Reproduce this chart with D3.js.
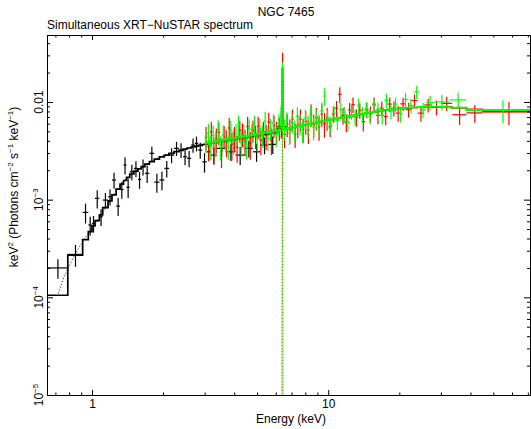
<!DOCTYPE html>
<meta charset="utf-8">
<style>
  body { margin: 0; background: #fff; }
  text { font-family: "Liberation Sans", Arial, sans-serif; fill: #000; }
</style>
<body>
<script src="https://d3js.org/d3.v7.min.js"></script>
<script>

// all fluxes in units of 1e-3 keV^2 (Photons cm^-2 s^-1 keV^-1)
var unit = 1e-3;

// XRT (black): bin edges in keV, data, 1-sigma errors, folded model
var xrtEdges = [0.645, 0.790, 0.913, 0.965, 1.000, 1.030, 1.075, 1.110, 1.170, 1.215, 1.265, 1.315, 1.360, 1.400,
  1.445, 1.505, 1.565, 1.615, 1.675, 1.750, 1.835, 1.930, 2.025, 2.120, 2.225, 2.335, 2.430, 2.525, 2.630, 2.725,
  2.815, 2.930, 3.060, 3.180, 3.380, 3.700, 4.050, 4.430, 4.800, 5.150, 5.600, 6.050, 6.700];
var xrtFlux = [0.200, 0.275, 0.740, 0.550, 0.570, 1.030, 0.668, 0.990, 1.070, 1.590, 0.860, 1.270, 2.260, 1.340,
  1.930, 2.090, 1.610, 2.170, 1.860, 2.980, 1.510, 1.590, 2.090, 2.860, 3.350, 3.220, 2.750, 2.650, 3.620, 3.770,
  3.220, 2.440, 3.090, 2.860, 3.350, 3.090, 2.860, 3.350, 3.090, 3.620, 3.680, 5.600];
var xrtErr = [0.045, 0.070, 0.170, 0.120, 0.110, 0.220, 0.130, 0.180, 0.200, 0.300, 0.180, 0.250, 0.450, 0.300,
  0.350, 0.380, 0.320, 0.400, 0.380, 0.500, 0.330, 0.340, 0.400, 0.500, 0.550, 0.550, 0.500, 0.500, 0.600, 0.650,
  0.600, 0.550, 0.600, 0.550, 0.600, 0.600, 0.600, 0.650, 0.650, 0.700, 0.750, 1.300];
var xrtModel = [0.105, 0.270, 0.390, 0.470, 0.540, 0.610, 0.700, 0.830, 0.970, 1.120, 1.280, 1.440, 1.570, 1.690,
  1.830, 1.960, 2.070, 2.180, 2.310, 2.450, 2.600, 2.740, 2.860, 2.980, 3.100, 3.200, 3.290, 3.380, 3.460, 3.530,
  3.600, 3.670, 3.740, 3.830, 3.960, 4.100, 4.250, 4.400, 4.530, 4.670, 4.820, 5.350];

// XRT continuum component (dotted)
var xrtCompE = [0.72, 0.76, 0.80, 0.85, 0.90, 0.95, 1.00, 1.08, 1.18, 1.27, 1.38, 1.49, 1.65, 1.81, 2.00, 2.20, 2.45, 2.67, 3.06];
var xrtCompV = [0.11, 0.16, 0.21, 0.28, 0.35, 0.43, 0.50, 0.67, 0.95, 1.25, 1.58, 1.87, 2.22, 2.54, 2.82, 3.07, 3.28, 3.45, 3.77];

// NuSTAR FPMA (red)
var fpmaEdges = [3.00, 3.08, 3.16, 3.24, 3.32, 3.40, 3.49, 3.58, 3.67, 3.76, 3.86, 3.96, 4.06, 4.17, 4.28, 4.39,
  4.50, 4.62, 4.74, 4.86, 4.99, 5.12, 5.25, 5.39, 5.53, 5.67, 5.82, 5.97, 6.13, 6.29, 6.37, 6.45, 6.62, 6.79,
  6.97, 7.15, 7.34, 7.53, 7.73, 7.93, 8.14, 8.35, 8.57, 8.80, 9.03, 9.27, 9.52, 9.77, 10.03, 10.35, 10.68, 11.02,
  11.37, 11.74, 12.12, 12.52, 12.94, 13.38, 13.84, 14.32, 14.83, 15.37, 15.94, 16.54, 17.18, 17.86, 18.58, 19.36,
  20.2, 21.3, 22.5, 23.9, 25.5, 27.5, 30.0, 33.5, 38.5, 45.0, 71.5];
var fpmaFlux = [4.36, 3.52, 4.95, 3.33, 4.16, 4.88, 3.15, 4.49, 3.91, 5.41, 3.70, 4.34, 3.43, 5.12, 4.73, 3.99,
  5.60, 3.76, 5.13, 4.49, 5.62, 4.07, 4.98, 4.51, 6.22, 4.07, 5.72, 4.98, 5.46, 6.04, 26.0, 4.66, 5.90, 5.16,
  6.66, 4.68, 5.81, 6.68, 5.26, 6.33, 5.16, 7.45, 5.84, 6.90, 5.55, 7.52, 6.02, 6.87, 5.58, 7.51, 8.63, 11.97,
  7.29, 6.20, 8.28, 9.43, 6.99, 8.22, 6.29, 8.31, 7.57, 9.49, 7.30, 8.62, 7.09, 9.51, 8.61, 7.68, 9.57, 8.35,
  10.35, 7.68, 9.32, 8.81, 9.68, 7.40, 7.73, 7.92];
var fpmaErr = [1.2, 1.05, 1.3, 1.05, 1.2, 1.3, 1.05, 1.2, 1.2, 1.45, 1.2, 1.2, 1.05, 1.3, 1.3, 1.2, 1.45, 1.2, 1.3,
  1.2, 1.45, 1.2, 1.3, 1.3, 1.55, 1.2, 1.45, 1.3, 1.45, 1.8, 6.0, 1.3, 1.55, 1.45, 1.7, 1.3, 1.55, 1.7, 1.45, 1.7,
  1.45, 1.95, 1.55, 1.8, 1.55, 1.95, 1.7, 1.8, 1.2, 1.4, 1.6, 2.2, 1.4, 1.3, 1.5, 1.7, 1.4, 1.5, 1.3, 1.5, 1.4,
  1.6, 1.4, 1.5, 1.3, 1.6, 1.5, 1.4, 1.5, 1.4, 1.6, 1.4, 1.5, 1.5, 1.6, 1.6, 1.6, 2.1];
var fpmaModel = [3.79, 3.83, 3.87, 3.92, 3.96, 4.00, 4.04, 4.08, 4.12, 4.16, 4.21, 4.25, 4.29, 4.34, 4.38, 4.43,
  4.48, 4.53, 4.58, 4.63, 4.68, 4.73, 4.79, 4.85, 4.90, 4.96, 5.02, 5.08, 5.15, 5.25, 22.0, 5.30, 5.36, 5.43,
  5.50, 5.57, 5.64, 5.71, 5.78, 5.86, 5.93, 6.01, 6.08, 6.16, 6.24, 6.32, 6.40, 6.48, 6.56, 6.65, 6.74, 6.84,
  6.94, 7.04, 7.14, 7.25, 7.36, 7.47, 7.58, 7.69, 7.80, 7.91, 8.02, 8.13, 8.24, 8.34, 8.44, 8.53, 8.62, 8.70,
  8.77, 8.83, 8.88, 8.90, 8.88, 8.70, 8.40, 8.00];

// NuSTAR FPMB (green)
var fpmbEdges = [3.00, 3.07, 3.15, 3.22, 3.30, 3.38, 3.46, 3.55, 3.64, 3.73, 3.82, 3.92, 4.02, 4.12, 4.23, 4.34,
  4.45, 4.57, 4.69, 4.81, 4.94, 5.07, 5.20, 5.34, 5.48, 5.63, 5.78, 5.94, 6.10, 6.26, 6.36, 6.44, 6.60, 6.77,
  6.94, 7.12, 7.31, 7.50, 7.70, 7.90, 8.11, 8.33, 8.55, 8.78, 9.02, 9.27, 9.53, 9.80, 10.10, 10.42, 10.76, 11.12,
  11.50, 11.90, 12.32, 12.76, 13.22, 13.70, 14.21, 14.75, 15.32, 15.93, 16.58, 17.28, 18.03, 18.84, 19.72, 20.7,
  21.8, 23.0, 24.4, 26.0, 28.0, 32.6, 38.4, 71.5];
var fpmbFlux = [4.10, 4.80, 3.49, 4.55, 3.84, 5.20, 3.47, 4.57, 4.16, 3.49, 5.12, 3.99, 4.71, 5.83, 3.85, 4.69,
  3.53, 5.33, 4.57, 5.82, 4.20, 5.38, 4.59, 6.39, 4.25, 5.40, 6.06, 4.66, 6.01, 7.20, 20.0, 5.41, 6.38, 4.82,
  6.20, 5.17, 7.15, 5.99, 5.08, 6.79, 5.80, 7.38, 5.53, 6.78, 5.99, 8.15, 11.52, 6.75, 5.92, 7.68, 6.44, 8.32,
  7.48, 6.18, 8.08, 7.04, 9.24, 7.49, 8.54, 7.19, 9.28, 8.29, 7.27, 10.43, 8.14, 9.52, 7.57, 10.61, 9.22, 12.67,
  8.30, 9.86, 10.02, 10.50, 8.22];
var fpmbErr = [1.1, 1.2, 0.95, 1.2, 1.1, 1.3, 0.95, 1.2, 1.1, 0.95, 1.3, 1.1, 1.2, 1.45, 1.1, 1.2, 0.95, 1.3, 1.2,
  1.45, 1.1, 1.3, 1.2, 1.55, 1.1, 1.3, 1.45, 1.2, 1.45, 1.8, 5.5, 1.3, 1.45, 1.2, 1.45, 1.3, 1.7, 1.45, 1.3, 1.55,
  1.45, 1.7, 1.45, 1.55, 1.45, 1.8, 2.4, 1.55, 1.2, 1.4, 1.3, 1.5, 1.4, 1.2, 1.5, 1.3, 1.6, 1.4, 1.5, 1.3, 1.6,
  1.5, 1.4, 1.8, 1.5, 1.6, 1.4, 1.8, 1.6, 2.0, 1.5, 1.7, 1.8, 1.9, 2.2];
var fpmbModel = [3.80, 3.84, 3.88, 3.92, 3.96, 4.00, 4.04, 4.08, 4.12, 4.16, 4.20, 4.24, 4.28, 4.32, 4.37, 4.42,
  4.47, 4.52, 4.57, 4.62, 4.67, 4.72, 4.78, 4.84, 4.89, 4.95, 5.01, 5.07, 5.14, 5.22, 22.0, 5.30, 5.36, 5.42,
  5.49, 5.56, 5.63, 5.70, 5.77, 5.85, 5.92, 6.00, 6.08, 6.16, 6.24, 6.32, 6.40, 6.49, 6.58, 6.68, 6.78, 6.88,
  6.99, 7.10, 7.21, 7.33, 7.45, 7.57, 7.69, 7.81, 7.93, 8.05, 8.17, 8.28, 8.39, 8.50, 8.60, 8.70, 8.78, 8.86,
  8.92, 8.96, 8.95, 8.75, 8.30];

// Fe K line component (dotted)
var fpmaLineE = [6.345, 6.41, 6.475], fpmaLineV = [0.0001, 16.8, 0.0001];
var fpmbLineE = [6.345, 6.40, 6.455], fpmbLineV = [0.0001, 16.8, 0.0001];

// axis ticks
var xMajor = [1, 10], xLabels = ['1', '10'];
var yMajor = [1e-5, 1e-4, 1e-3, 1e-2];
var yBase = ['10', '10', '10', '0.01'], yExp = ['\u22125', '\u22124', '\u22123', ''];

var W = 531, H = 429;
var M = {l: 47, r: 530, t: 35, b: 395};

var x = d3.scaleLog().domain([0.645, 71.5]).range([M.l, M.r]);
var y = d3.scaleLog().domain([1e-5, 0.0485]).range([M.b, M.t]);

var svg = d3.select('body').append('svg')
    .attr('width', W)
    .attr('height', H);

svg.append('defs').append('clipPath').attr('id', 'plotclip')
  .append('rect')
    .attr('x', M.l).attr('y', M.t)
    .attr('width', M.r - M.l).attr('height', M.b - M.t);

var plot = svg.append('g').attr('clip-path', 'url(#plotclip)');

var bins = (edges, flux, err, model) => flux.map((f, i) => ({
  lo: edges[i], hi: edges[i + 1], f: f * unit, e: err[i] * unit, m: model[i] * unit
}));

var stepLine = d3.line().x(d => x(d[0])).y(d => y(d[1])).curve(d3.curveStepAfter);
var plainLine = d3.line().x(d => x(d[0])).y(d => y(d[1]));

function drawSet(b, col) {
  var g = plot.append('g').attr('stroke', col).attr('fill', 'none');
  g.selectAll('line.h').data(b).enter().append('line').attr('class', 'h')
    .attr('x1', d => x(d.lo)).attr('x2', d => x(d.hi))
    .attr('y1', d => y(d.f)).attr('y2', d => y(d.f))
    .attr('stroke-width', 1.2);
  g.selectAll('line.v').data(b).enter().append('line').attr('class', 'v')
    .attr('x1', d => x((d.lo + d.hi) / 2)).attr('x2', d => x((d.lo + d.hi) / 2))
    .attr('y1', d => y(Math.max(d.f - d.e, 1e-7))).attr('y2', d => y(d.f + d.e))
    .attr('stroke-width', 1.2);
  var pts = b.map(d => [d.lo, d.m]);
  pts.push([b[b.length - 1].hi, b[b.length - 1].m]);
  g.append('path').attr('d', stepLine(pts)).attr('stroke-width', 1.7);
}

function drawComp(E, V, col, offset) {
  plot.append('path')
    .attr('d', plainLine(E.map((e, i) => [e, V[i] * unit])))
    .attr('fill', 'none')
    .attr('stroke', col)
    .attr('stroke-width', 1)
    .attr('stroke-dasharray', '1,2')
    .attr('stroke-dashoffset', offset);
}

drawSet(bins(xrtEdges, xrtFlux, xrtErr, xrtModel), '#000');
drawComp(xrtCompE, xrtCompV, '#000', 0);
drawSet(bins(fpmaEdges, fpmaFlux, fpmaErr, fpmaModel), '#ff0000');
drawComp(fpmaLineE, fpmaLineV, '#b0b000', 0);
drawSet(bins(fpmbEdges, fpmbFlux, fpmbErr, fpmbModel), '#00ff00');
drawComp(fpmbLineE, fpmbLineV, '#00c000', 1.5);

// axes (ticks inward on all four sides)
var isMajor = v => Math.abs(Math.log10(v) - Math.round(Math.log10(v))) < 1e-6;
var xMinor = x.ticks().filter(v => !isMajor(v));
var yMinor = y.ticks().filter(v => !isMajor(v));

function addAxis(axis, tx, ty, vals, size) {
  return svg.append('g')
    .attr('transform', `translate(${tx},${ty})`)
    .call(axis.tickValues(vals).tickSize(-size).tickSizeOuter(0).tickFormat(''));
}

addAxis(d3.axisBottom(x), 0, M.b, xMinor, 2.5);
addAxis(d3.axisTop(x), 0, M.t, xMinor, 2.5);
addAxis(d3.axisTop(x), 0, M.t, xMajor, 5);
addAxis(d3.axisLeft(y), M.l, 0, yMinor, 3);
addAxis(d3.axisLeft(y), M.l, 0, yMajor, 6);
addAxis(d3.axisRight(y), M.r, 0, yMinor, 3);
addAxis(d3.axisRight(y), M.r, 0, yMajor, 6);

svg.append('g')
    .attr('transform', `translate(0,${M.b})`)
    .call(d3.axisBottom(x).tickValues(xMajor).tickSize(-5).tickSizeOuter(0).tickPadding(4)
      .tickFormat(d => xLabels[xMajor.indexOf(d)]))
    .attr('font-size', 12)
    .attr('font-family', '"Liberation Sans", Arial, sans-serif');

svg.selectAll('.domain').attr('stroke', '#000');

// y tick labels, rotated
svg.append('g').selectAll('text').data(yMajor).enter().append('text')
    .attr('transform', d => `translate(43,${y(d)}) rotate(-90)`)
    .attr('text-anchor', 'middle')
    .attr('font-size', 12)
    .each(function(d, i) {
      var t = d3.select(this);
      t.append('tspan').text(yBase[i]);
      if (yExp[i]) t.append('tspan').attr('font-size', 8).attr('dy', -5).text(yExp[i]);
    });

// y axis title
var yt = svg.append('text')
    .attr('transform', 'translate(18,187) rotate(-90)')
    .attr('text-anchor', 'middle')
    .attr('font-size', 12);
[['keV', 0], ['2', 1], [' (Photons cm', 0], ['\u22122', 1], [' s', 0], ['\u22121', 1], [' keV', 0], ['\u22121', 1], [')', 0]]
  .forEach((p, i, arr) => {
    var dy = p[1] ? -5 : (i > 0 && arr[i - 1][1] ? 5 : 0);
    yt.append('tspan').attr('font-size', p[1] ? 8 : 12).attr('dy', dy).text(p[0]);
  });

svg.append('text')
    .attr('x', 291).attr('y', 423)
    .attr('text-anchor', 'middle')
    .attr('font-size', 12)
    .text('Energy (keV)');

svg.append('text')
    .attr('x', 286).attr('y', 16)
    .attr('text-anchor', 'middle')
    .attr('font-size', 12)
    .text('NGC 7465');

svg.append('text')
    .attr('x', 47).attr('y', 29)
    .attr('font-size', 12)
    .text('Simultaneous XRT\u2212NuSTAR spectrum');

</script>
</body>
</html>
